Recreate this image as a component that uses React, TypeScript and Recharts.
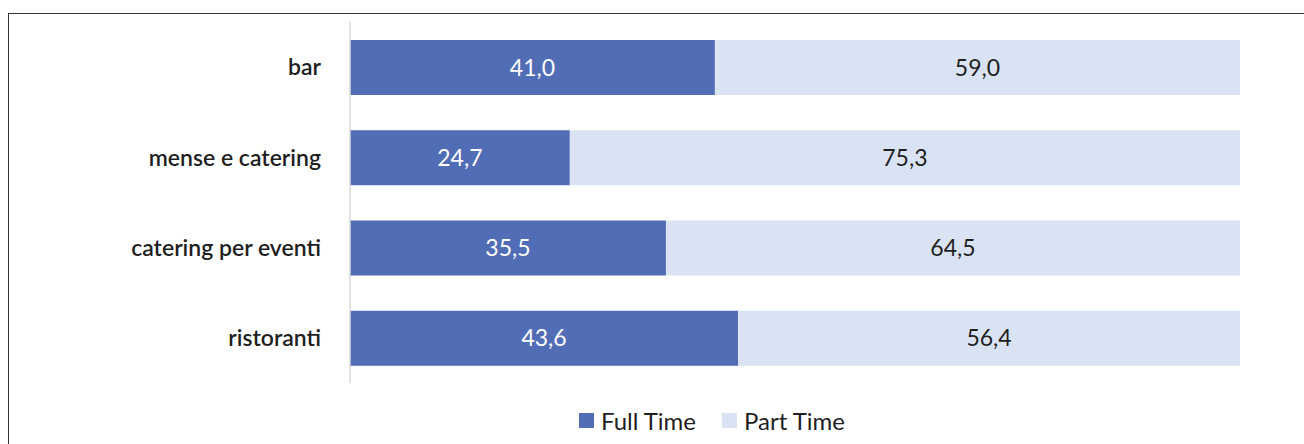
import { BarChart, Bar, XAxis, YAxis, Legend, LabelList } from 'recharts'

const categories = ['bar', 'mense e catering', 'catering per eventi', 'ristoranti']
const fullTime = [41.0, 24.7, 35.5, 43.6]
const partTime = [59.0, 75.3, 64.5, 56.4]

const FULL = '#516db5'
const PART = '#dae3f3'
const FONT = 'Lato, "Noto Sans", sans-serif'

const data = categories.map((c, i) => ({ name: c, full: fullTime[i], part: partTime[i] }))

const fmt = (v: any) => Number(v).toFixed(1).replace('.', ',')

const LegendContent = () => (
  <div style={{ display: 'flex', justifyContent: 'center', paddingLeft: 120, fontFamily: FONT, fontSize: 24, color: '#1f1f1f' }}>
    {[
      { label: 'Full Time', color: FULL },
      { label: 'Part Time', color: PART },
    ].map((it, i) => (
      <div key={it.label} style={{ display: 'flex', alignItems: 'center', marginLeft: i ? 26 : 0 }}>
        <span style={{ width: 15, height: 15, background: it.color, display: 'inline-block', marginRight: 7 }} />
        <span>{it.label}</span>
      </div>
    ))}
  </div>
)

export default function App() {
  return (
    <div style={{ position: 'absolute', left: 0, top: 0, width: 1304, height: 444, background: '#fff', overflow: 'hidden' }}>
      <div style={{ position: 'absolute', left: 8, top: 13, width: 1400, height: 500, borderTop: '1px solid #333', borderLeft: '1px solid #333' }} />
      <BarChart
        width={1304}
        height={444}
        data={data}
        layout="vertical"
        barSize={55}
        margin={{ top: 22, right: 64, bottom: 31, left: 0 }}
      >
        <XAxis type="number" domain={[0, 100]} hide />
        <YAxis
          type="category"
          dataKey="name"
          width={350}
          tickLine={false}
          axisLine={{ stroke: '#d9d9d9', strokeWidth: 1.5 }}
          tickMargin={23}
          tick={{ fill: '#1f1f1f', fontSize: 23, fontWeight: 600, fontFamily: FONT }}
        />
        <Legend height={30} content={<LegendContent />} wrapperStyle={{ top: 406, left: 0, width: 1304, bottom: 'auto' }} />
        <Bar dataKey="full" stackId="a" fill={FULL} name="Full Time" isAnimationActive={false}>
          <LabelList dataKey="full" position="center" formatter={fmt} fill="#ffffff" fontSize={23} fontFamily={FONT} />
        </Bar>
        <Bar dataKey="part" stackId="a" fill={PART} name="Part Time" isAnimationActive={false}>
          <LabelList dataKey="part" position="center" formatter={fmt} fill="#1f1f1f" fontSize={23} fontFamily={FONT} />
        </Bar>
      </BarChart>
    </div>
  )
}
